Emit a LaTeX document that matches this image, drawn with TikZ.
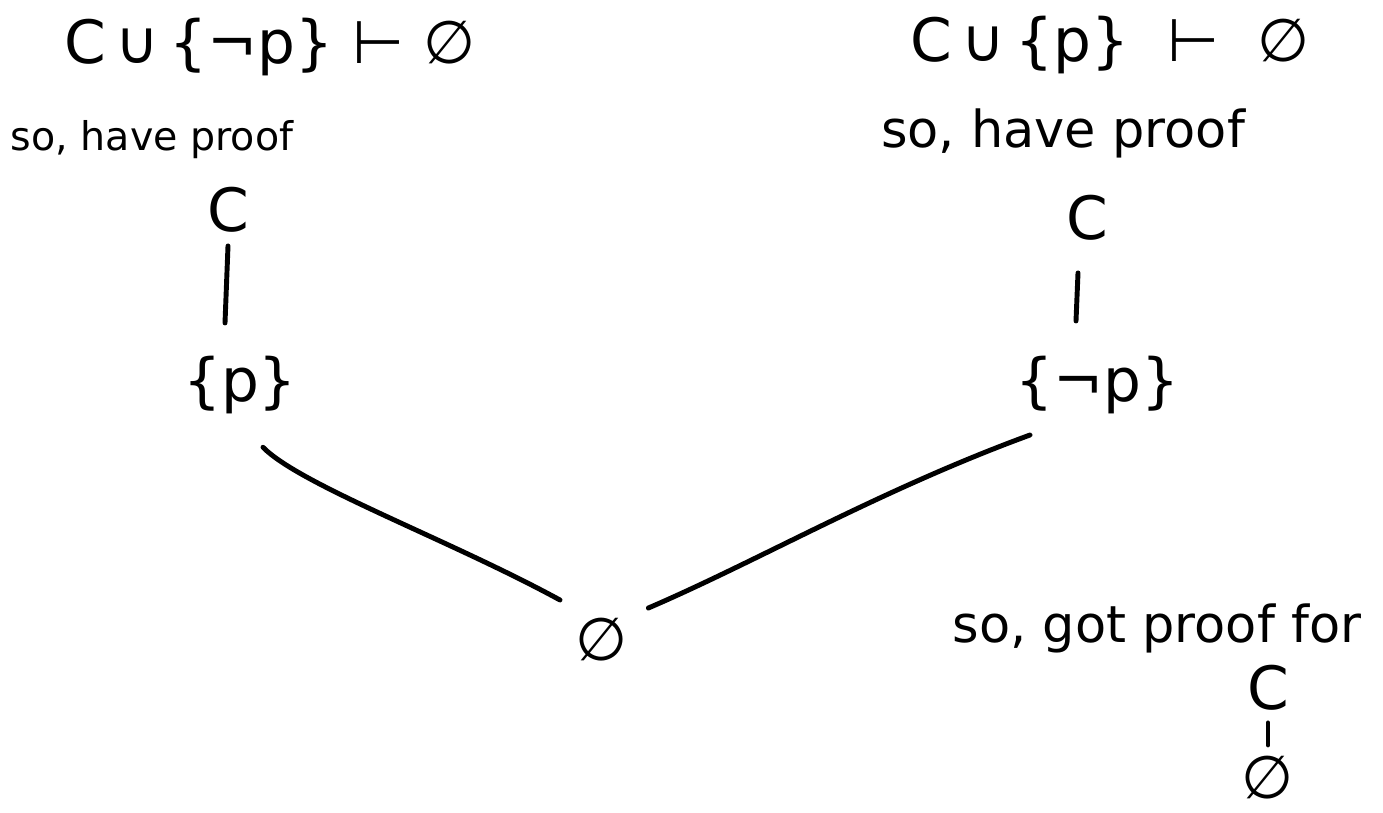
\documentclass[tikz,border=0pt]{standalone}
\usepackage{fontspec}
\setmainfont{DejaVu Sans}
\begin{document}
\begin{tikzpicture}[x=0.02cm,y=-0.02cm,
  big/.style={inner sep=0pt,font=\fontsize{34}{40}\selectfont},
  note/.style={inner sep=0pt,font=\fontsize{22.5}{28}\selectfont},
  noteb/.style={inner sep=0pt,font=\fontsize{29}{34}\selectfont},
  pen/.style={line width=2.8pt,line cap=round}]
\useasboundingbox (0,0) rectangle (1383,812);
% left column
\node[big] (tl) at (270,47) {C\,∪\,\{¬p\}\ ⊢\ ∅};
\node[note] (sl) at (152,140) {so, have proof};
\node[big] (cl) at (228,210) {C};
\node[big] (pl) at (240,385) {\{p\}};
% right column
\node[big] (tr) at (1110,45) {C\,∪\,\{p\}\ \ ⊢\ \ ∅};
\node[noteb] (sr) at (1063,133) {so, have proof};
\node[big] (cr) at (1087,218) {C};
\node[big] (pr) at (1097,385) {\{¬p\}};
% bottom
\node[big] (e) at (602,640) {∅};
\node[noteb] (sg) at (1157,628) {so, got proof for};
\node[big] (cg) at (1268,688) {C};
\node[big] (eg) at (1268,778) {∅};
% connectors
\draw[pen] (cl.south) ++(0,13) coordinate (l1a) -- ++(-3,77) coordinate (l1b);
\draw[pen] (cr.south) ++(-9,32) coordinate (r1a) -- ++(-2,48) coordinate (r1b);
\draw[pen] (cg.south) ++(0,12) coordinate (g1a) -- ++(0,22) coordinate (g1b);
\draw[pen] (pl.south) ++(23,33) coordinate (la)
  .. controls (300,485) and (450,540) .. (560,600) coordinate (lb);
\draw[pen] (e.east) ++(20,-32) coordinate (ra)
  .. controls (760,560) and (880,490) .. (1030,435) coordinate (rb);
\end{tikzpicture}
\end{document}
